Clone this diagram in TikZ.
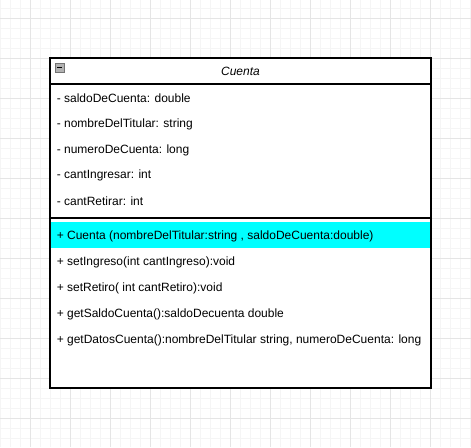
\documentclass[tikz,border=0pt]{standalone}
\usepackage{fontspec}
\setmainfont{Liberation Sans}
\definecolor{selcyan}{RGB}{0,255,255}
\tikzset{
  member/.style={anchor=west,inner sep=0pt,font=\fontsize{9}{11}\selectfont},
  minorline/.style={draw=black!4,line width=0.75pt},
  majorline/.style={draw=black!10,line width=0.75pt}
}
\begin{document}
\begin{tikzpicture}[x=0.75pt,y=-0.75pt]
	\useasboundingbox (0,0) rectangle (471,447);
	\fill[white] (0,0) rectangle (471,447);
	% grid
	\foreach \x in {0,10,...,470} \draw[minorline] (\x,0) -- (\x,447);
	\foreach \y in {8,18,...,440} \draw[minorline] (0,\y) -- (471,\y);
	\foreach \x in {30,70,...,430} \draw[majorline] (\x,0) -- (\x,447);
	\foreach \y in {18,58,...,418} \draw[majorline] (0,\y) -- (471,\y);
	% class box
	\fill[white] (50,58) rectangle (431,388);
	\fill[selcyan] (50,222) rectangle (431,248);
	\draw[line width=0.9pt] (50,58) rectangle (431,388);
	\draw[line width=0.9pt] (50,84) -- (431,84);
	\draw[line width=0.9pt] (50,218) -- (431,218);
	\draw[fill=black!30,draw=black!55,line width=0.5pt] (55,63) rectangle (64,72);
	\draw[line width=0.9pt] (57,67.5) -- (62,67.5);
	\node[member,anchor=center,font=\fontsize{9}{11}\selectfont\itshape] (cuenta) at (240.5,71.5) {Cuenta};
	% attributes
	\node[member] (saldo) at (56.5,98) {- saldoDeCuenta: double};
	\node[member] (nombre) at (56.5,124) {- nombreDelTitular: string};
	\node[member] (numero) at (56.5,150) {- numeroDeCuenta: long};
	\node[member] (ingresar) at (56.5,175.5) {- cantIngresar: int};
	\node[member] (retirar) at (56.5,201.5) {- cantRetirar: int};
	% methods
	\node[member] (ctor) at (56.5,236) {+ Cuenta (nombreDelTitular:string , saldoDeCuenta:double)};
	\node[member] (ingreso) at (56.5,262) {+ setIngreso(int cantIngreso):void};
	\node[member] (retiro) at (56.5,288) {+ setRetiro( int cantRetiro):void};
	\node[member] (getsaldo) at (56.5,314) {+ getSaldoCuenta():saldoDecuenta double};
	\node[member] (getdatos) at (56.5,340) {+ getDatosCuenta():nombreDelTitular string, numeroDeCuenta: long};
\end{tikzpicture}
\end{document}
